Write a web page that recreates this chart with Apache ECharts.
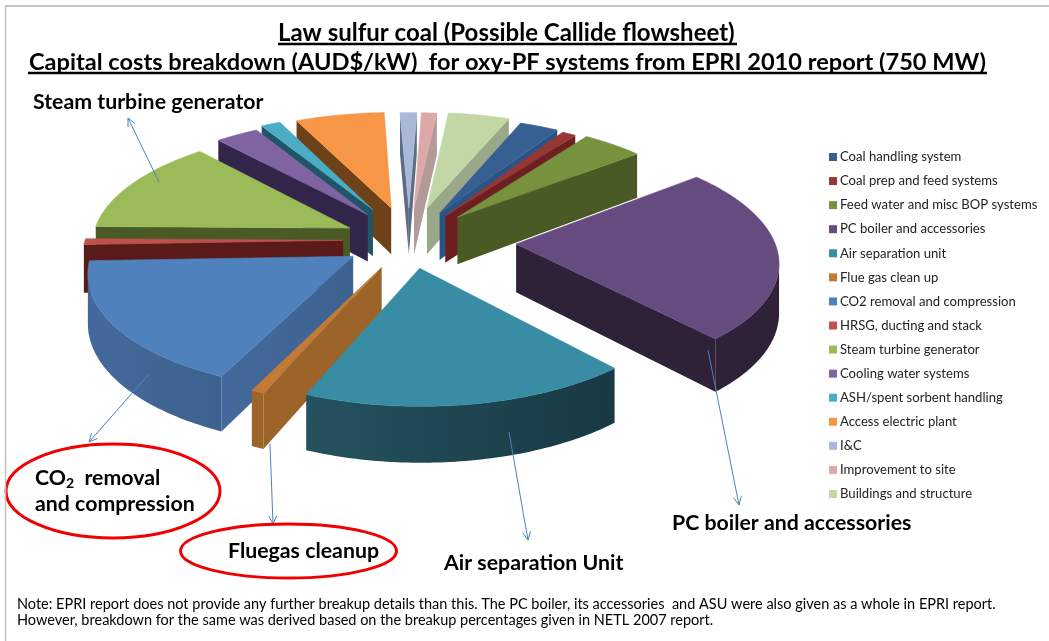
<!DOCTYPE html>
<html>
<head>
<meta charset="utf-8">
<title>Capital costs breakdown</title>
<script src="https://cdn.jsdelivr.net/npm/echarts@6/dist/echarts.min.js"></script>
<style>
	html, body { margin: 0; padding: 0; background: #fff; }
	#chart { width: 1049px; height: 641px; }
</style>
</head>
<body>
<div id="chart"></div>
<script>
//////////// data ////////////
var categories = ['Coal handling system', 'Coal prep and feed systems', 'Feed water and misc BOP systems',
	'PC boiler and accessories', 'Air separation unit', 'Flue gas clean up', 'CO2 removal and compression',
	'HRSG, ducting and stack', 'Steam turbine generator', 'Cooling water systems', 'ASH/spent sorbent handling',
	'Access electric plant', 'I&C', 'Improvement to site', 'Buildings and structure'];
// share of total cost, %
var shares = [2.8, 1.0, 4.4, 24.3, 17.8, 0.7, 17.5, 0.8, 13.3, 3.1, 1.4, 6.4, 1.2, 1.1, 4.4];

//////////// style ////////////
var topColors = ['#376092', '#953735', '#76923c', '#664b80', '#388ca4', '#c27a34', '#4f81bd',
	'#c0504d', '#9bbb59', '#8064a2', '#4bacc6', '#f79646', '#a7b8d8', '#dca9a8', '#c3d6a6'];
var wallColors = ['#2a5488', '#6e1f1f', '#4a5a25', '#2e2138', '#25525f', '#9c6428', '#44699c',
	'#5a1a1a', '#4a5a25', '#33244a', '#1f5566', '#6e4218', '#5d6b85', '#b39a9a', '#9aa88a'];
var wallEndColors = ['#2a5488', '#6e1f1f', '#4a5a25', '#2e2138', '#183943', '#9c6428', '#3c628f',
	'#5a1a1a', '#4a5a25', '#33244a', '#1f5566', '#6e4218', '#5d6b85', '#b39a9a', '#9aa88a'];
var explode = [0.27, 0.26, 0.28, 0.415, 0.245, 0.255, 0.255, 0.255, 0.255, 0.28, 0.31, 0.3, 0.29, 0.29, 0.3];
var startAngle = 21.8;   // degrees clockwise from straight up
var pie = { cx: 409, cy: 240, rx: 258, k: 114, p: 0.12, h: 48 };

var font = 'Lato, Carlito, sans-serif';
var total = shares.reduce(function(a, b) { return a + b; }, 0);

// plane -> screen, z is the drop below the top face
function project(u, v, z) {
	var s = 1 / (1 - pie.p * v);
	return [pie.cx + pie.rx * u * s, pie.cy + pie.k * v * s + (z || 0) * s];
}

function area(pts) {
	var a = 0;
	for (var i = 0; i < pts.length; i++) {
		var q = pts[(i + 1) % pts.length];
		a += pts[i][0] * q[1] - q[0] * pts[i][1];
	}
	return a / 2;
}

// one slice drawn as walls + top face
function renderSlice(idx, params, api) {
	var before = 0;
	for (var i = 0; i < idx; i++) before += shares[i];
	var a0 = startAngle + before / total * 360;
	var a1 = a0 + api.value(0) / total * 360;
	var mid = (a0 + a1) / 2 * Math.PI / 180;
	var ou = Math.sin(mid) * explode[idx], ov = -Math.cos(mid) * explode[idx];

	var rim = [];
	var steps = Math.max(3, Math.ceil(a1 - a0));
	for (var s = 0; s <= steps; s++) {
		var a = (a0 + (a1 - a0) * s / steps) * Math.PI / 180;
		rim.push([ou + Math.sin(a), ov - Math.cos(a)]);
	}
	var z2 = 100 + Math.round(Math.cos(mid) * -50);
	var children = [];
	function facing(p, q) {
		return area([project(p[0], p[1]), project(q[0], q[1]), project(q[0], q[1], pie.h), project(p[0], p[1], pie.h)]) <= 0;
	}
	function addWall(path) {
		var pts = path.map(function(p) { return project(p[0], p[1]); });
		path.slice().reverse().forEach(function(p) { pts.push(project(p[0], p[1], pie.h)); });
		var fill = wallColors[idx];
		if (wallEndColors[idx] !== fill) {
			fill = new echarts.graphic.LinearGradient(0, 0, 1, 0, [
				{ offset: 0, color: wallColors[idx] }, { offset: 1, color: wallEndColors[idx] }
			]);
		}
		children.push({
			type: 'polygon', z2: z2, shape: { points: pts },
			style: { fill: fill }
		});
	}
	var apex = [ou, ov];
	if (facing(apex, rim[0])) addWall([apex, rim[0]]);
	if (facing(rim[rim.length - 1], apex)) addWall([rim[rim.length - 1], apex]);
	// outer face: runs of rim segments that look toward the viewer
	var run = [];
	for (var w = 0; w < rim.length - 1; w++) {
		if (facing(rim[w], rim[w + 1])) {
			if (!run.length) run.push(rim[w]);
			run.push(rim[w + 1]);
		} else if (run.length) {
			addWall(run);
			run = [];
		}
	}
	if (run.length) addWall(run);

	var top = [project(apex[0], apex[1])];
	rim.forEach(function(r) { top.push(project(r[0], r[1])); });
	children.push({
		type: 'polygon', z2: z2 + 1, shape: { points: top },
		style: { fill: topColors[idx], stroke: topColors[idx], lineWidth: 0.6 }
	});
	return { type: 'group', children: children };
}

var sliceSeries = categories.map(function(name, idx) {
	return {
		type: 'custom',
		name: name,
		coordinateSystem: 'none',
		silent: true,
		itemStyle: { color: topColors[idx] },
		data: [[shares[idx]]],
		renderItem: function(params, api) { return renderSlice(idx, params, api); }
	};
});

//////////// annotations ////////////
var arrows = [
	[[159, 182], [128, 118]],
	[[149, 374], [89, 442]],
	[[270, 444], [273, 524]],
	[[509, 432], [528, 540]],
	[[708, 350], [739, 505]]
];

function arrowGraphics() {
	var list = [];
	arrows.forEach(function(a) {
		var from = a[0], to = a[1];
		var t = Math.atan2(to[1] - from[1], to[0] - from[0]);
		var head = [
			[to[0] - 9 * Math.cos(t - 0.45), to[1] - 9 * Math.sin(t - 0.45)],
			to,
			[to[0] - 9 * Math.cos(t + 0.45), to[1] - 9 * Math.sin(t + 0.45)]
		];
		var line = { stroke: '#4f81bd', lineWidth: 1, fill: null };
		list.push({ type: 'polyline', z: 20, shape: { points: [from, to] }, style: line });
		list.push({ type: 'polyline', z: 20, shape: { points: head }, style: line });
	});
	return list;
}

function label(text, x, y, size, weight, extra) {
	var style = { text: text, x: x, y: y, fill: '#000', font: (weight || 'bold') + ' ' + size + 'px ' + font, verticalAlign: 'middle' };
	if (extra) style.rich = extra;
	return { type: 'text', z: 30, style: style };
}

function rule(x1, y1, x2, y2, color, width) {
	return { type: 'line', z: 30, shape: { x1: x1, y1: y1, x2: x2, y2: y2 }, style: { stroke: color, lineWidth: width } };
}

function oval(cx, cy, rx, ry) {
	return { type: 'ellipse', z: 25, shape: { cx: cx, cy: cy, rx: rx, ry: ry }, style: { fill: null, stroke: '#f00000', lineWidth: 3 } };
}

var graphics = [
	rule(5, 6, 1049, 6, '#c4c4c4', 2),
	rule(5.5, 5, 5.5, 641, '#c4c4c4', 1.5),
	label('Law sulfur coal (Possible Callide flowsheet)', 278, 33, 24),
	rule(278, 44, 737, 44, '#000', 2.5),
	label('Capital costs breakdown (AUD$/kW)  for oxy-PF systems from EPRI 2010 report (750 MW)', 29, 62, 23.6),
	rule(28, 73, 987, 73, '#000', 2.5),
	label('Steam turbine generator', 33, 102, 21.3),
	label('PC boiler and accessories', 672, 523, 21.3),
	label('Air separation Unit', 444, 563, 21.3),
	label('Fluegas cleanup', 228, 551, 21.3),
	label('CO{sub|2}  removal', 35, 478, 21.3, 'bold', { sub: { font: 'bold 14px ' + font, fill: '#000', verticalAlign: 'bottom', padding: [10, 0, 0, 0] } }),
	label('and compression', 35, 504, 21.3),
	oval(113, 491, 107, 47),
	oval(288.5, 551, 108, 27),
	label('Note: EPRI report does not provide any further breakup details than this. The PC boiler, its accessories  and ASU were also given as a whole in EPRI report.', 17, 604, 14.5, 'normal'),
	label('However, breakdown for the same was derived based on the breakup percentages given in NETL 2007 report.', 17, 620, 14.5, 'normal')
].concat(arrowGraphics());

//////////// chart ////////////
var chart = echarts.init(document.getElementById('chart'));
chart.setOption({
	animation: false,
	backgroundColor: '#fff',
	legend: {
		orient: 'vertical',
		left: 829,
		top: 150,
		padding: 0,
		itemWidth: 8,
		itemHeight: 8,
		itemGap: 10.07,
		icon: 'rect',
		selectedMode: false,
		textStyle: { fontFamily: font, fontSize: 13.1, color: '#222', padding: [0, 0, 0, -2], lineHeight: 14 },
		data: categories
	},
	graphic: { elements: graphics },
	series: sliceSeries
});
</script>
</body>
</html>
